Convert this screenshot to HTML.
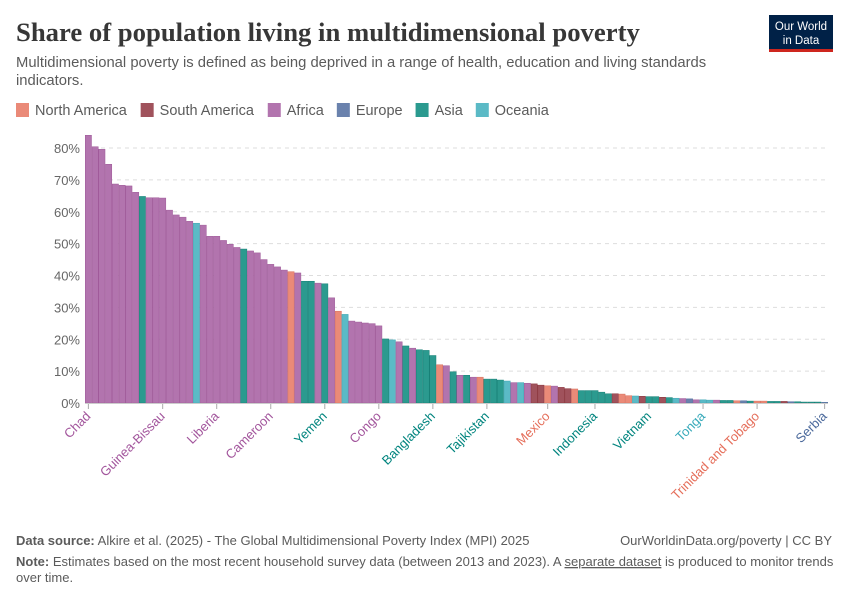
<!DOCTYPE html>
<html><head><meta charset="utf-8"><style>
body{margin:0;background:#fff;width:850px;height:600px;overflow:hidden;font-family:"Liberation Sans",sans-serif;}
svg text{font-family:"Liberation Sans",sans-serif;}
</style></head><body>
<svg id="chart" width="850" height="600" xmlns="http://www.w3.org/2000/svg">
<text x="16" y="41" font-size="26.7" font-weight="bold" fill="#373737" style="font-family:'Liberation Serif',serif">Share of population living in multidimensional poverty</text>
<text x="16" y="67" font-size="14.8" fill="#5b5b5b">Multidimensional poverty is defined as being deprived in a range of health, education and living standards</text>
<text x="16" y="85" font-size="14.8" fill="#5b5b5b">indicators.</text>
<g>
<rect x="769" y="15" width="64" height="35" fill="#002147"/>
<rect x="769" y="49" width="64" height="3" fill="#ce261e"/>
<text x="801" y="30" font-size="11.5" fill="#fff" text-anchor="middle">Our World</text>
<text x="801" y="44" font-size="11.5" fill="#fff" text-anchor="middle">in Data</text>
</g>
<g id="legend"></g>
<g id="grid"></g>
<g id="bars"></g>
<g id="xlabels"></g>
<text x="16" y="545" font-size="13" fill="#5b5b5b"><tspan font-weight="bold">Data source:</tspan> Alkire et al. (2025) - The Global Multidimensional Poverty Index (MPI) 2025</text>
<text x="832" y="545" font-size="13" fill="#5b5b5b" text-anchor="end">OurWorldinData.org/poverty | CC BY</text>
<text x="16" y="566" font-size="13" fill="#5b5b5b"><tspan font-weight="bold">Note:</tspan> Estimates based on the most recent household survey data (between 2013 and 2023). A <tspan text-decoration="underline">separate dataset</tspan> is produced to monitor trends</text>
<text x="16" y="582" font-size="13" fill="#5b5b5b">over time.</text>
</svg>
<script>
const values=[84.0,80.4,79.6,74.9,68.7,68.3,68.1,66.1,64.8,64.4,64.4,64.3,60.5,59.0,58.3,57.0,56.4,55.8,52.3,52.3,51.0,49.8,48.8,48.3,47.7,47.1,45.0,43.5,42.7,41.7,41.2,40.8,38.2,38.2,37.6,37.4,33.0,28.8,27.8,25.7,25.4,25.1,24.9,24.2,20.1,19.8,19.2,17.9,17.2,16.7,16.5,14.9,12.0,11.7,9.8,8.7,8.7,8.1,8.1,7.5,7.5,7.2,6.9,6.4,6.4,6.2,6.0,5.6,5.4,5.3,4.9,4.5,4.4,3.9,3.9,3.9,3.4,2.9,2.9,2.8,2.3,2.2,2.1,2.0,2.0,1.8,1.7,1.5,1.4,1.3,1.0,1.0,0.9,0.9,0.8,0.8,0.7,0.7,0.6,0.6,0.6,0.5,0.5,0.5,0.4,0.4,0.3,0.3,0.3,0.2];
const regions="AAAAAAAA S AAAAAAA O AAAAAA S AAAAAA N A SS A S A N O AAAAA S O A S A SSS N A S A S A N SSS O A O A MM N A MM N SSSSS M NN O M SS M S O A E A OO A SS N E S NN SS M E SSSS E".replace(/ /g,"").split("");
const labelNames=["Chad","Guinea-Bissau","Liberia","Cameroon","Yemen","Congo","Bangladesh","Tajikistan","Mexico","Indonesia","Vietnam","Tonga","Trinidad and Tobago","Serbia"];
const labelIdx=[0,11,19,27,35,43,51,59,68,75,83,91,99,109];
const yTicks=[0,10,20,30,40,50,60,70,80];
const legendNames=["North America","South America","Africa","Europe","Asia","Oceania"];
const legendKeys=["N","M","A","E","S","O"];
const col={N:"#ea8a78",M:"#a0525c",A:"#b274ae",E:"#6a82ad",S:"#2b9a8f",O:"#5bbac6"};
const edge={N:"#d9705d",M:"#883039",A:"#9f5a99",E:"#4c6a9c",S:"#157f75",O:"#3ea6b4"};
const lblCol={N:"#e56e5a",M:"#883039",A:"#a2559c",E:"#4c6a9c",S:"#00847e",O:"#38aaba"};
const NS="http://www.w3.org/2000/svg";
const x0=85,x1=828,yBase=403,yTop=148,yMaxV=80;
const bw=(x1-x0)/values.length;
const X=i=>x0+i*bw;
const Y=v=>yBase-(v/yMaxV)*(yBase-yTop);
function mk(t,a,p){const e=document.createElementNS(NS,t);for(const k in a)e.setAttribute(k,a[k]);p.appendChild(e);return e;}
const lg=document.getElementById('legend');let lx=16;
const ctx=document.createElement('canvas').getContext('2d');ctx.font='14.5px "Liberation Sans"';
legendNames.forEach((n,i)=>{
 const g=mk('g',{},lg);
 
 
 mk('rect',{x:lx,y:103,width:13,height:14,fill:col[legendKeys[i]]},g);
 const t=mk('text',{x:lx+19,y:115,'font-size':14.5,fill:'#5b5b5b'},g);t.textContent=n;
 lx+=19+ctx.measureText(n).width+13;
});
const gr=document.getElementById('grid');
yTicks.forEach(v=>{
 if(v>0){const l=mk('line',{x1:x0,x2:x1,y1:Y(v),y2:Y(v),stroke:'#ddd','stroke-dasharray':'4,4'},gr);
 
 }
 const t=mk('text',{x:80,y:Y(v)+5,'font-size':13,fill:'#666','text-anchor':'end'},gr);t.textContent=v+'%';
 
 
});
const bg=document.getElementById('bars');
values.forEach((v,i)=>{
 const r=mk('rect',{x:X(i)+0.25,y:Y(v),width:bw-0.5,height:yBase-Y(v),fill:col[regions[i]],stroke:edge[regions[i]],'stroke-width':0.5},bg);
 
 
});
mk('line',{x1:x0,x2:x1,y1:yBase+0.5,y2:yBase+0.5,stroke:'#ccc'},bg);
const xl=document.getElementById('xlabels');
labelIdx.forEach((idx,k)=>{
 const cx=X(idx)+bw/2;
 mk('line',{x1:cx,x2:cx,y1:yBase+1,y2:yBase+6,stroke:'#aaa'},xl);
 const t=mk('text',{x:cx+3,y:yBase+14,'font-size':13,fill:lblCol[regions[idx]],'text-anchor':'end',transform:`rotate(-45 ${cx+3} ${yBase+14})`},xl);
 t.textContent=labelNames[k];
 
 
});
</script>
</body></html>
